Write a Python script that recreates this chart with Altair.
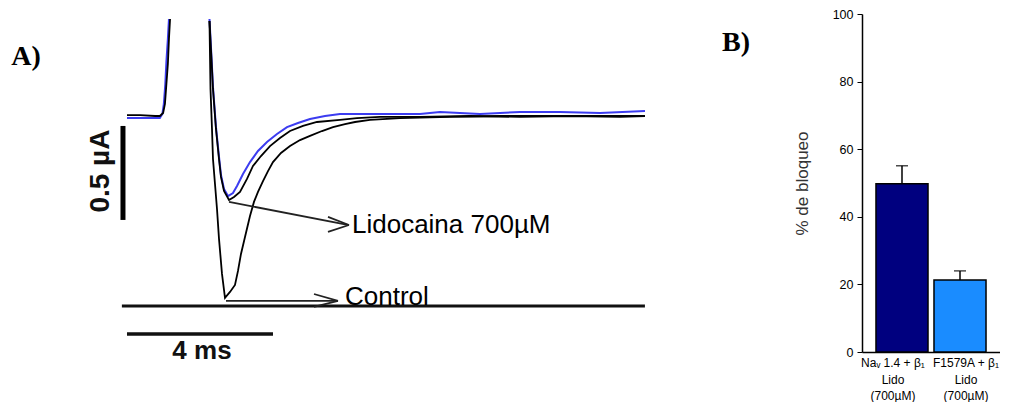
import altair as alt
import pandas as pd

# ---------------- Panel A data (time in ms, current in µA) ----------------
# pre-pulse segment (black)
pre_t = [0.0, 0.36, 0.77, 0.90, 0.99, 1.04, 1.08, 1.12, 1.15, 1.18]
pre_i = [0.005, 0.005, 0.0, 0.0, 0.016, 0.064, 0.170, 0.277, 0.410, 0.516]
# pre-pulse segment (blue)
pre_b_t = [0.0, 0.40, 0.90, 0.97, 1.01, 1.05, 1.08, 1.12, 1.15]
pre_b_i = [-0.011, -0.011, -0.011, 0.011, 0.064, 0.170, 0.290, 0.410, 0.516]

# Lidocaine trace (black)
lido_t = [2.260, 2.315, 2.356, 2.438, 2.521, 2.575, 2.658, 2.795, 2.932, 3.096, 3.288,
          3.452, 3.671, 3.918, 4.192, 4.466, 4.822, 5.205, 5.836, 6.301, 6.932, 8.027,
          9.397, 10.767, 12.137, 13.507, 14.192]
lido_i = [0.505, 0.303, 0.144, -0.069, -0.229, -0.324, -0.399, -0.447, -0.431, -0.404, -0.335,
          -0.266, -0.213, -0.160, -0.117, -0.080, -0.053, -0.032, -0.021, -0.011, -0.005, -0.005,
          0.0, -0.005, 0.0, -0.005, 0.0]

# Lidocaine trace (blue)
blue_t = [2.260, 2.315, 2.356, 2.438, 2.521, 2.575, 2.658, 2.767, 2.904, 3.014, 3.178,
          3.370, 3.589, 3.836, 4.110, 4.384, 4.685, 5.014, 5.425, 5.836, 6.932, 8.027,
          8.575, 9.671, 10.767, 11.863, 12.959, 14.192]
blue_i = [0.516, 0.314, 0.154, -0.059, -0.218, -0.314, -0.388, -0.426, -0.410, -0.372, -0.309,
          -0.245, -0.186, -0.138, -0.096, -0.059, -0.037, -0.016, 0.0, 0.011, 0.011, 0.011,
          0.021, 0.011, 0.021, 0.021, 0.016, 0.027]

# Control trace (black)
ctrl_t = [2.260, 2.288, 2.329, 2.356, 2.411, 2.466, 2.521, 2.603, 2.685, 2.822, 2.959,
          3.041, 3.123, 3.233, 3.370, 3.479, 3.589, 3.726, 3.863, 4.000, 4.219, 4.466,
          4.740, 5.014, 5.342, 5.644, 5.973, 6.247, 6.658, 7.479, 8.849, 10.219, 11.863, 14.192]
ctrl_i = [0.505, 0.144, -0.069, -0.229, -0.362, -0.495, -0.654, -0.840, -0.968, -0.936, -0.899,
          -0.824, -0.734, -0.644, -0.532, -0.457, -0.404, -0.346, -0.293, -0.245, -0.197, -0.160,
          -0.128, -0.106, -0.080, -0.059, -0.043, -0.032, -0.021, -0.011, -0.005, 0.0, 0.0, 0.0]

# arrows, scale bars and baseline (segments: t1, i1, t2, i2)
arrow_t1 = [2.795, 6.082, 6.082, 2.712, 5.781, 5.781]
arrow_i1 = [-0.457, -0.580, -0.580, -0.984, -0.984, -0.984]
arrow_t2 = [6.082, 5.507, 5.507, 5.781, 5.123, 5.123]
arrow_i2 = [-0.580, -0.537, -0.617, -0.984, -0.947, -1.016]

vbar_t = [-0.11]
vbar_i1 = [-0.053]
vbar_i2 = [-0.553]   # 0.5 µA
hbar_t1 = [0.0]
hbar_t2 = [4.0]      # 4 ms
hbar_i = [-1.16]
base_t1 = [-0.14]
base_t2 = [14.19]
base_i = [-1.011]

T_DOMAIN = [-3.260, 17.562]
I_DOMAIN = [-1.479, 0.5426]

# ---------------- Panel B data ----------------
cat_line1 = ["Naᵥ 1.4 + β₁", "F1579A + β₁"]
cat_line2 = ["Lido", "Lido"]
cat_line3 = ["(700µM)", "(700µM)"]
block_mean = [49.8, 21.3]
block_err = [5.3, 2.7]
bar_colors = ["#00007f", "#1a8cff"]

FONT = "Liberation Sans"
BLUE = "#3c3cf0"

# ---------------- Build panel A ----------------
def trace_df(ts, iis, seg):
    return pd.DataFrame({"t": ts, "i": iis, "seg": seg, "k": list(range(len(ts)))})

blue_df = pd.concat([trace_df(pre_b_t, pre_b_i, "bpre"), trace_df(blue_t, blue_i, "blido")])
black_df = pd.concat([trace_df(pre_t, pre_i, "pre"), trace_df(lido_t, lido_i, "lido"),
                      trace_df(ctrl_t, ctrl_i, "ctrl")])

xs = alt.Scale(domain=T_DOMAIN, nice=False, zero=False)
ys = alt.Scale(domain=I_DOMAIN, nice=False, zero=False)

blue_layer = alt.Chart(blue_df).mark_line(color=BLUE, strokeWidth=2).encode(
    x=alt.X("t:Q", scale=xs, axis=None),
    y=alt.Y("i:Q", scale=ys, axis=None),
    detail="seg:N", order="k:Q")
black_layer = alt.Chart(black_df).mark_line(color="black", strokeWidth=1.8).encode(
    x=alt.X("t:Q", scale=xs, axis=None),
    y=alt.Y("i:Q", scale=ys, axis=None),
    detail="seg:N", order="k:Q")

arrow_df = pd.DataFrame({"t1": arrow_t1, "i1": arrow_i1, "t2": arrow_t2, "i2": arrow_i2})
arrows = alt.Chart(arrow_df).mark_rule(color="#222", strokeWidth=1.8).encode(
    x=alt.X("t1:Q", scale=xs, axis=None), y=alt.Y("i1:Q", scale=ys, axis=None),
    x2="t2:Q", y2="i2:Q")

vbar = alt.Chart(pd.DataFrame({"t": vbar_t, "i1": vbar_i1, "i2": vbar_i2})).mark_rule(
    color="black", strokeWidth=5).encode(
    x=alt.X("t:Q", scale=xs, axis=None), y=alt.Y("i1:Q", scale=ys, axis=None), y2="i2:Q")
hbar = alt.Chart(pd.DataFrame({"t1": hbar_t1, "t2": hbar_t2, "i": hbar_i})).mark_rule(
    color="#111", strokeWidth=3.5).encode(
    x=alt.X("t1:Q", scale=xs, axis=None), x2="t2:Q", y=alt.Y("i:Q", scale=ys, axis=None))
base = alt.Chart(pd.DataFrame({"t1": base_t1, "t2": base_t2, "i": base_i})).mark_rule(
    color="#111", strokeWidth=3).encode(
    x=alt.X("t1:Q", scale=xs, axis=None), x2="t2:Q", y=alt.Y("i:Q", scale=ys, axis=None))

def label(text, t, i, **kw):
    return alt.Chart(pd.DataFrame({"a": [0]})).mark_text(text=text, **kw).encode(
        x=alt.datum(t), y=alt.datum(i))

lab_lido = label("Lidocaina 700µM", 6.164, -0.622, font=FONT, fontSize=26, align="left",
                 baseline="alphabetic", color="#000")
lab_ctrl = label("Control", 5.973, -1.005, font=FONT, fontSize=26, align="left",
                 baseline="alphabetic", color="#000")
lab_05 = label("0.5 µA", -0.712, -0.293, font=FONT, fontSize=28, fontWeight="bold", angle=270,
               align="center", baseline="middle", color="#111")
lab_4ms = label("4 ms", 2.055, -1.25, font=FONT, fontSize=26, fontWeight="bold",
                align="center", baseline="middle", color="#111")
lab_A = label("A)", -2.767, 0.314, font="Liberation Serif", fontSize=28, fontWeight="bold",
              align="center", baseline="middle", color="black")
lab_B = label("B)", 16.685, 0.388, font="Liberation Serif", fontSize=28, fontWeight="bold",
              align="center", baseline="middle", color="black")

panelA = alt.layer(blue_layer, black_layer, base, arrows, vbar, hbar,
                   lab_lido, lab_ctrl, lab_05, lab_4ms, lab_A, lab_B).properties(
    width=760, height=380)

# ---------------- Build panel B ----------------
bdf = pd.DataFrame({"cat": cat_line1, "l2": cat_line2, "l3": cat_line3,
                    "value": block_mean, "err": block_err, "idx": [0, 1]})

bscale = alt.Scale(domain=cat_line1, paddingInner=0.103, paddingOuter=0.241)
yscale = alt.Scale(domain=[0, 100], nice=False)
yaxis = alt.Axis(values=[0, 20, 40, 60, 80, 100], title="% de bloqueo",
                 titleFont=FONT, titleFontSize=17, titleFontWeight="normal",
                 titleColor="#333", titlePadding=21, grid=False, tickSize=5,
                 tickColor="black", domainColor="black", domainWidth=1.5,
                 labelFont=FONT, labelFontSize=12.5, labelColor="black",
                 labelPadding=4)
bx = alt.X("cat:N", sort=None, scale=bscale,
           axis=alt.Axis(title=None, labels=False, ticks=False, domainColor="black",
                         domainWidth=1.5))
bx_plain = alt.X("cat:N", sort=None, scale=bscale)

bars = alt.Chart(bdf).mark_bar(stroke="black", strokeWidth=1.5).encode(
    x=bx, y=alt.Y("value:Q", scale=yscale, axis=yaxis),
    color=alt.Color("cat:N", scale=alt.Scale(domain=cat_line1, range=bar_colors), legend=None))
err_rule = alt.Chart(bdf).transform_calculate(hi="datum.value + datum.err").mark_rule(
    color="black", strokeWidth=1.5).encode(x=bx_plain, y=alt.Y("value:Q", scale=yscale),
                                            y2="hi:Q")
err_cap = alt.Chart(bdf).transform_calculate(hi="datum.value + datum.err").mark_tick(
    color="black", thickness=1.5, size=12).encode(
    x=bx_plain, y=alt.Y("hi:Q", scale=yscale))

def cat_label(idx, field, dx, ypix):
    return alt.Chart(bdf).transform_filter(f"datum.idx == {idx}").mark_text(
        baseline="middle", align="center", dx=dx, font=FONT, fontSize=12,
        color="black").encode(
        x=bx_plain, y=alt.value(ypix), text=f"{field}:N")

label_layers = []
for idx, dx in [(0, -9), (1, 6)]:
    for field, ypix in [("cat", 349), ("l2", 366), ("l3", 382)]:
        label_layers.append(cat_label(idx, field, dx, ypix))

panelB = alt.layer(bars, err_rule, err_cap, *label_layers).properties(
    width=138, height=338)

chart = alt.hconcat(panelA, panelB, spacing=94, bounds="flush").properties(
    padding={"left": 0, "top": 0, "right": 0, "bottom": 0}
).configure_view(stroke=None)

chart.save("out.html", embed_options={"renderer": "svg", "actions": False})
